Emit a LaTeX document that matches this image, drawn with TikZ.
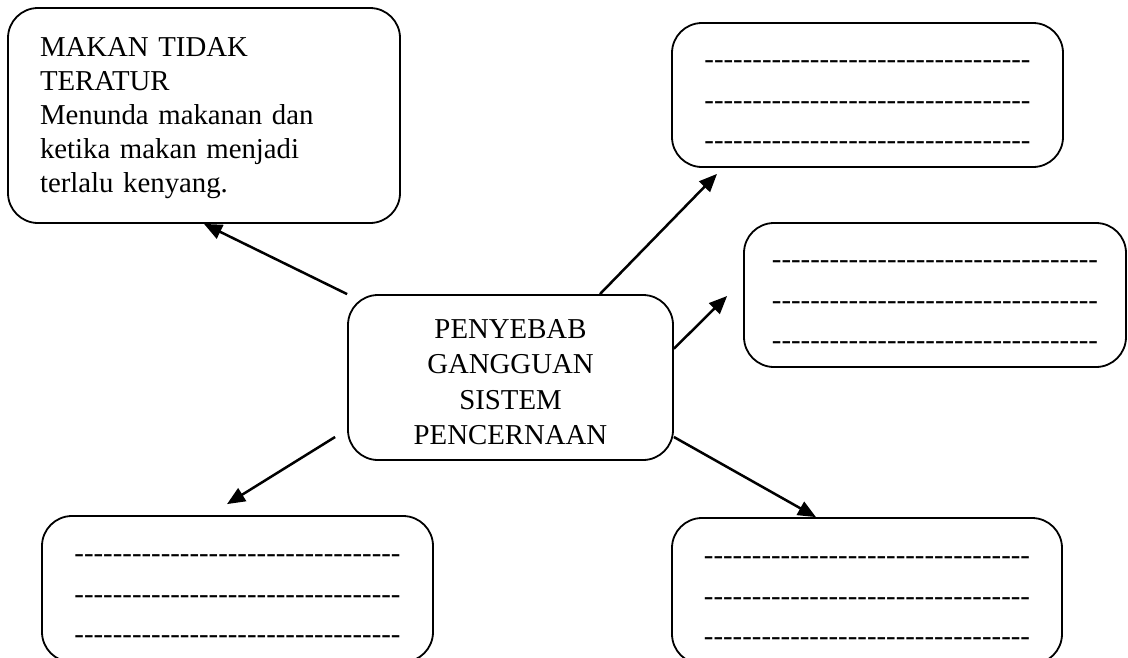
\documentclass[tikz,border=0pt]{standalone}
\usepackage{fontspec}
\setmainfont{Liberation Serif}
\usetikzlibrary{arrows.meta,calc}

\newcommand\blankline{\foreach \k in {1,...,34}{-\kern0pt}}

\begin{document}
\begin{tikzpicture}[x=1pt,y=-1pt,
  bubble/.style={draw, line width=1.8pt, rounded corners=30pt, inner sep=0pt,
    font=\fontsize{28.8}{34}\selectfont},
  blank/.style={bubble, align=center, font=\fontsize{28.8}{40.5}\selectfont},
  link/.style={-{Triangle[length=18pt,width=15pt]}, line width=2.5pt}]
  \useasboundingbox (0,0) rectangle (1128,657);

  \node[bubble, align=center, minimum width=325pt, minimum height=165pt,
    font=\fontsize{28.8}{35.5}\selectfont] (hub) at (510.5,377.5)
    {\rule{0pt}{28pt}PENYEBAB\\GANGGUAN\\SISTEM\\PENCERNAAN};

  \node[bubble, align=left, text width=328pt, inner xsep=32pt,
    minimum height=215pt] (cause) at (204,115.5)
    {\rule{0pt}{24pt}MAKAN TIDAK\\TERATUR\\Menunda makanan dan\\ketika makan menjadi\\terlalu kenyang.};

  \node[blank, minimum width=391pt, minimum height=144pt] (opt1) at (867.5,95)
    {\strut\blankline\\\blankline\\\blankline};
  \node[blank, minimum width=382pt, minimum height=144pt] (opt2) at (935,295)
    {\strut\blankline\\\blankline\\\blankline};
  \node[blank, minimum width=391pt, minimum height=146pt] (opt3) at (237.5,589)
    {\strut\blankline\\\blankline\\\blankline};
  \node[blank, minimum width=390pt, minimum height=146pt] (opt4) at (867,591)
    {\strut\blankline\\\blankline\\\blankline};

  \draw[link] (hub.north west) -- (cause.south);
  \draw[link] (hub.43.6) -- ($(opt1.south)+(-150.5,6)$);
  \draw[link] (hub.10) -- ($(opt2.west)+(-16,1)$);
  \draw[link] ($(hub.200.6)+(-12,0)$) -- ($(opt3.north)+(-10.5,-11)$);
  \draw[link] (hub.-20.6) -- ($(opt4.north)+(-51,0)$);

\end{tikzpicture}
\end{document}
